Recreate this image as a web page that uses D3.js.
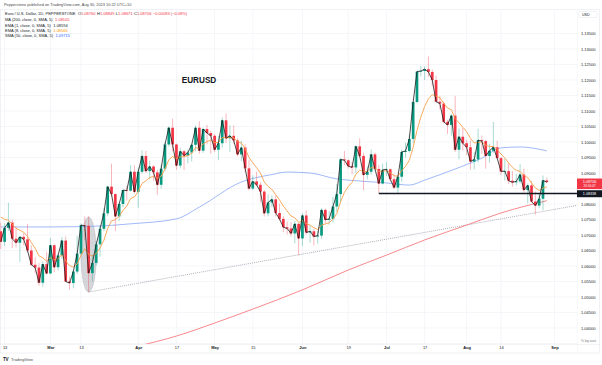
<!DOCTYPE html>
<html><head><meta charset="utf-8">
<script src="https://cdn.jsdelivr.net/npm/d3@7"></script>
<style>
body{margin:0;background:#fff}
svg{display:block}
text{font-family:"Liberation Sans",Arial,sans-serif}
</style>
</head><body>
<svg id="c" width="602" height="365"></svg>
<script>
// ---------- DATA ----------
const dates = [
"2023-02-10",
"2023-02-13","2023-02-14","2023-02-15","2023-02-16","2023-02-17",
"2023-02-20","2023-02-21","2023-02-22","2023-02-23","2023-02-24",
"2023-02-27","2023-02-28","2023-03-01","2023-03-02","2023-03-03",
"2023-03-06","2023-03-07","2023-03-08","2023-03-09","2023-03-10",
"2023-03-13","2023-03-14","2023-03-15","2023-03-16","2023-03-17",
"2023-03-20","2023-03-21","2023-03-22","2023-03-23","2023-03-24",
"2023-03-27","2023-03-28","2023-03-29","2023-03-30","2023-03-31",
"2023-04-03","2023-04-04","2023-04-05","2023-04-06","2023-04-07",
"2023-04-10","2023-04-11","2023-04-12","2023-04-13","2023-04-14",
"2023-04-17","2023-04-18","2023-04-19","2023-04-20","2023-04-21",
"2023-04-24","2023-04-25","2023-04-26","2023-04-27","2023-04-28",
"2023-05-01","2023-05-02","2023-05-03","2023-05-04","2023-05-05",
"2023-05-08","2023-05-09","2023-05-10","2023-05-11","2023-05-12",
"2023-05-15","2023-05-16","2023-05-17","2023-05-18","2023-05-19",
"2023-05-22","2023-05-23","2023-05-24","2023-05-25","2023-05-26",
"2023-05-29","2023-05-30","2023-05-31","2023-06-01","2023-06-02",
"2023-06-05","2023-06-06","2023-06-07","2023-06-08","2023-06-09",
"2023-06-12","2023-06-13","2023-06-14","2023-06-15","2023-06-16",
"2023-06-19","2023-06-20","2023-06-21","2023-06-22","2023-06-23",
"2023-06-26","2023-06-27","2023-06-28","2023-06-29","2023-06-30",
"2023-07-03","2023-07-04","2023-07-05","2023-07-06","2023-07-07",
"2023-07-10","2023-07-11","2023-07-12","2023-07-13","2023-07-14",
"2023-07-17","2023-07-18","2023-07-19","2023-07-20","2023-07-21",
"2023-07-24","2023-07-25","2023-07-26","2023-07-27","2023-07-28",
"2023-07-31","2023-08-01","2023-08-02","2023-08-03","2023-08-04",
"2023-08-07","2023-08-08","2023-08-09","2023-08-10","2023-08-11",
"2023-08-14","2023-08-15","2023-08-16","2023-08-17","2023-08-18",
"2023-08-21","2023-08-22","2023-08-23","2023-08-24","2023-08-25",
"2023-08-28","2023-08-29","2023-08-30"];

const open = [
1.0712,
1.0678,1.0723,1.0740,1.0688,1.0675,
1.0694,1.0686,1.0650,1.0604,1.0595,
1.0546,1.0606,1.0576,1.0667,1.0596,
1.0634,1.0682,1.0550,1.0545,1.0582,
1.0640,1.0732,1.0730,1.0577,1.0610,
1.0670,1.0720,1.0770,1.0856,1.0832,
1.0760,1.0800,1.0845,1.0843,1.0904,
1.0839,1.0904,1.0955,1.0906,1.0921,
1.0902,1.0862,1.0914,1.0992,1.1046,
1.0992,1.0924,1.0970,1.0956,1.0966,
1.0991,1.1046,1.0972,1.1042,1.1029,
1.1020,1.0975,1.0996,1.1070,1.1012,
1.1020,1.1005,1.0960,1.0982,1.0915,
1.0850,1.0873,1.0862,1.0840,1.0770,
1.0805,1.0815,1.0771,1.0752,1.0725,
1.0721,1.0705,1.0736,1.0689,1.0763,
1.0708,1.0712,1.0695,1.0698,1.0781,
1.0749,1.0752,1.0792,1.0832,1.0944,
1.0941,1.0922,1.0918,1.0986,1.0955,
1.0894,1.0904,1.0960,1.0913,1.0866,
1.0910,1.0912,1.0880,1.0853,1.0888,
1.0968,1.0971,1.1010,1.1129,1.1227,
1.1229,1.1235,1.1226,1.1200,1.1130,
1.1124,1.1065,1.1055,1.1085,1.0975,
1.1017,1.0996,1.0983,1.0937,1.0944,
1.1006,1.1003,1.0955,1.0972,1.0983,
1.0948,1.0905,1.0906,1.0875,1.0870,
1.0873,1.0895,1.0845,1.0860,1.0808,
1.0795,1.0817,1.0876];

const high = [
1.0740,
1.0737,1.0804,1.0750,1.0724,1.0695,
1.0706,1.0736,1.0666,1.0628,1.0610,
1.0614,1.0646,1.0691,1.0669,1.0640,
1.0694,1.0695,1.0566,1.0587,1.0698,
1.0737,1.0760,1.0760,1.0637,1.0680,
1.0731,1.0787,1.0856,1.0930,1.0835,
1.0803,1.0845,1.0858,1.0926,1.0925,
1.0918,1.0973,1.0971,1.0940,1.0925,
1.0910,1.0927,1.0998,1.1050,1.1075,
1.0995,1.0981,1.0974,1.0974,1.0993,
1.1053,1.1067,1.1047,1.1055,1.1037,
1.1026,1.1020,1.1079,1.1092,1.1054,
1.1054,1.1012,1.1004,1.0993,1.0943,
1.0893,1.0904,1.0870,1.0845,1.0831,
1.0828,1.0828,1.0801,1.0761,1.0744,
1.0741,1.0745,1.0739,1.0771,1.0779,
1.0730,1.0720,1.0713,1.0786,1.0785,
1.0777,1.0823,1.0865,1.0948,1.0971,
1.0944,1.0936,1.0990,1.1012,1.0966,
1.0921,1.0976,1.0966,1.0926,1.0930,
1.0935,1.0915,1.0898,1.0890,1.0975,
1.0998,1.1024,1.1131,1.1230,1.1245,
1.1244,1.1276,1.1234,1.1214,1.1149,
1.1130,1.1072,1.1090,1.1149,1.1044,
1.1045,1.1008,1.1005,1.0968,1.1043,
1.1021,1.1007,1.0995,1.1065,1.1004,
1.0952,1.0946,1.0932,1.0906,1.0897,
1.0929,1.0914,1.0866,1.0874,1.0840,
1.0832,1.0892,1.08849];

const low = [
1.0655,
1.0665,1.0713,1.0658,1.0660,1.0613,
1.0667,1.0644,1.0600,1.0577,1.0536,
1.0533,1.0575,1.0573,1.0580,1.0586,
1.0622,1.0549,1.0524,1.0528,1.0574,
1.0634,1.0683,1.0516,1.0551,1.0602,
1.0630,1.0712,1.0761,1.0825,1.0713,
1.0745,1.0790,1.0811,1.0840,1.0833,
1.0788,1.0897,1.0900,1.0880,1.0875,
1.0830,1.0850,1.0906,1.0985,1.0970,
1.0910,1.0915,1.0909,1.0931,1.0937,
1.0970,1.0962,1.0965,1.0993,1.0962,
1.0967,1.0941,1.0982,1.0997,1.0968,
1.0995,1.0954,1.0938,1.0903,1.0844,
1.0845,1.0857,1.0805,1.0760,1.0760,
1.0790,1.0760,1.0746,1.0709,1.0702,
1.0695,1.0673,1.0635,1.0664,1.0702,
1.0675,1.0666,1.0672,1.0688,1.0738,
1.0733,1.0740,1.0775,1.0805,1.0925,
1.0914,1.0896,1.0900,1.0949,1.0844,
1.0880,1.0895,1.0909,1.0835,1.0863,
1.0890,1.0872,1.0848,1.0833,1.0872,
1.0949,1.0966,1.0996,1.1125,1.1212,
1.1200,1.1210,1.1181,1.1128,1.1105,
1.1060,1.1026,1.1020,1.0968,1.0944,
1.0972,1.0958,1.0911,1.0912,1.0934,
1.0962,1.0914,1.0933,1.0965,1.0946,
1.0893,1.0876,1.0865,1.0856,1.0860,
1.0866,1.0837,1.0802,1.0805,1.0766,
1.0786,1.0780,1.08671];

const close = [
1.0678,
1.0723,1.0740,1.0688,1.0675,1.0694,
1.0686,1.0650,1.0604,1.0595,1.0546,
1.0606,1.0576,1.0667,1.0596,1.0634,
1.0682,1.0550,1.0545,1.0582,1.0640,
1.0732,1.0730,1.0577,1.0610,1.0670,
1.0720,1.0770,1.0856,1.0832,1.0760,
1.0800,1.0845,1.0843,1.0904,1.0839,
1.0904,1.0955,1.0906,1.0921,1.0902,
1.0862,1.0914,1.0992,1.1046,1.0992,
1.0924,1.0970,1.0956,1.0966,1.0991,
1.1046,1.0972,1.1042,1.1029,1.1020,
1.0975,1.0996,1.1070,1.1012,1.1020,
1.1005,1.0960,1.0982,1.0915,1.0850,
1.0873,1.0862,1.0840,1.0770,1.0805,
1.0815,1.0771,1.0752,1.0725,1.0721,
1.0705,1.0736,1.0689,1.0763,1.0708,
1.0712,1.0695,1.0698,1.0781,1.0749,
1.0752,1.0792,1.0832,1.0944,1.0941,
1.0922,1.0918,1.0986,1.0955,1.0894,
1.0904,1.0960,1.0913,1.0866,1.0910,
1.0912,1.0880,1.0853,1.0888,1.0968,
1.0971,1.1010,1.1129,1.1227,1.1229,
1.1235,1.1226,1.1200,1.1130,1.1124,
1.1065,1.1055,1.1085,1.0975,1.1017,
1.0996,1.0983,1.0937,1.0944,1.1006,
1.1003,1.0955,1.0972,1.0983,1.0948,
1.0905,1.0906,1.0875,1.0870,1.0873,
1.0895,1.0845,1.0860,1.0808,1.0795,
1.0817,1.0876,1.08706];

// EMA(8) value on the first visible bar
const ema8Start = 1.0758;

// SMA(50)
const sma50Dates = ["2023-02-10","2023-02-20","2023-03-01","2023-03-13","2023-03-23","2023-03-30","2023-04-17","2023-04-25","2023-05-10","2023-05-22","2023-05-26","2023-06-05","2023-06-14","2023-06-19","2023-07-03","2023-07-11","2023-07-17","2023-07-27","2023-08-02","2023-08-07","2023-08-14","2023-08-21","2023-08-30"];
const sma50Values = [1.0726,1.0726,1.0726,1.0727,1.0731,1.0736,1.0752,1.0790,1.0871,1.0895,1.0903,1.0900,1.0881,1.0877,1.0868,1.0861,1.0877,1.0913,1.0932,1.0948,1.0981,1.0984,1.09715];

// MA(200)
const ma200Dates = ["2023-03-20","2023-04-03","2023-04-17","2023-05-01","2023-05-15","2023-06-01","2023-06-19","2023-07-03","2023-07-17","2023-08-01","2023-08-14","2023-08-30"];
const ma200Values = [1.0316,1.0342,1.0374,1.0416,1.0461,1.0523,1.0587,1.0635,1.0684,1.0732,1.0771,1.08105];

// drawings
const trendDates = ["2023-03-15","2023-08-14"];
const trendValues = [1.0516,1.0752];
const levelDate = "2023-06-29";
const levelValue = 1.08338;
const ellipseDates = ["2023-03-13","2023-03-17"];
const ellipseValues = [1.0758,1.0516];

// axes
const priceTicks = [1.035,1.040,1.045,1.050,1.055,1.060,1.065,1.070,1.075,1.080,1.085,1.090,1.095,1.100,1.105,1.110,1.115,1.120,1.125,1.130,1.135];
const priceLabelTicks = [1.040,1.045,1.050,1.055,1.060,1.065,1.070,1.075,1.080,1.090,1.095,1.100,1.105,1.110,1.115,1.120,1.125,1.130,1.135];
const timeTickDates = ["2023-02-13","2023-03-01","2023-03-13","2023-04-03","2023-04-17","2023-05-01","2023-05-15","2023-06-01","2023-06-19","2023-07-03","2023-07-17","2023-08-01","2023-08-14","2023-09-01"];
const timeTickLabels = ["13","Mar","13","Apr","17","May","15","Jun","19","Jul","17","Aug","14","Sep"];
const monthLabels = ["Mar","Apr","May","Jun","Jul","Aug","Sep"];

// ---------- CHART ----------
const svg = d3.select("#c");
const W = 602, H = 365;
const plotL = 0, plotR = 577, plotT = 9, plotB = 344;
const GREEN = "#089981", RED = "#f23645";

const parse = d3.timeParse("%Y-%m-%d");
const d0 = parse(dates[0]);
const dateIndex = s => d3.timeDay.range(d0, parse(s)).filter(d => d.getDay() !== 0 && d.getDay() !== 6).length;

const x = d3.scaleLinear().domain([1, 143]).range([4.6, 546.8]);
const y = d3.scaleLinear().domain([1.035, 1.135]).range([343.5, 33.5]);

svg.append("rect").attr("width", W).attr("height", H).attr("fill", "#fff");

// header
svg.append("text").attr("x", 4).attr("y", 6).attr("font-size", 3.9).attr("fill", "#4a4a4a")
  .text("Pepperstone published on TradingView.com, Aug 30, 2023 10:22 UTC+10");

// frame
svg.append("rect").attr("x", 0.5).attr("y", 9.5).attr("width", 599).attr("height", 343.5)
  .attr("fill", "none").attr("stroke", "#e6e8ee").attr("stroke-width", 0.6);

svg.append("defs").append("clipPath").attr("id", "plot")
  .append("rect").attr("x", plotL).attr("y", plotT).attr("width", plotR - plotL).attr("height", plotB - plotT);

// grid
const grid = svg.append("g").attr("stroke", "#f0f2f6").attr("stroke-width", 0.7);
grid.selectAll(".h").data(priceTicks).join("line")
  .attr("x1", plotL).attr("x2", plotR).attr("y1", d => y(d)).attr("y2", d => y(d));
grid.selectAll(".v").data(timeTickDates).join("line")
  .attr("x1", d => x(dateIndex(d))).attr("x2", d => x(dateIndex(d))).attr("y1", plotT).attr("y2", plotB);

const plot = svg.append("g").attr("clip-path", "url(#plot)");

// ellipse highlight
const ex0 = x(dateIndex(ellipseDates[0])), ex1 = x(dateIndex(ellipseDates[1]));
const ey0 = y(ellipseValues[0]), ey1 = y(ellipseValues[1]);
plot.append("ellipse").attr("cx", (ex0 + ex1) / 2).attr("cy", (ey0 + ey1) / 2)
  .attr("rx", (ex1 - ex0) / 2).attr("ry", (ey1 - ey0) / 2)
  .attr("fill", "#9598a1").attr("fill-opacity", 0.4).attr("stroke", "#b2b5be").attr("stroke-width", 0.5);

// trend line (dotted) extended to the right edge
const tx0 = x(dateIndex(trendDates[0])), ty0 = y(trendValues[0]);
const tx1 = x(dateIndex(trendDates[1])), ty1 = y(trendValues[1]);
const slope = (ty1 - ty0) / (tx1 - tx0);
plot.append("line").attr("x1", tx0).attr("y1", ty0).attr("x2", plotR).attr("y2", ty0 + slope * (plotR - tx0))
  .attr("stroke", "#787b86").attr("stroke-width", 0.6).attr("stroke-dasharray", "1,1");

// MA200
const lineFn = d3.line().curve(d3.curveMonotoneX);
plot.append("path")
  .attr("d", lineFn(ma200Dates.map((d, i) => [x(dateIndex(d)), y(ma200Values[i])])))
  .attr("fill", "none").attr("stroke", "#f77c80").attr("stroke-width", 0.9);
// SMA50
plot.append("path")
  .attr("d", lineFn(sma50Dates.map((d, i) => [x(dateIndex(d)), y(sma50Values[i])])))
  .attr("fill", "none").attr("stroke", "#7b9ef6").attr("stroke-width", 0.9).attr("stroke-opacity", 0.8);

// candles
const idx = d3.range(dates.length);
const candles = plot.append("g");
candles.selectAll(".w").data(idx).join("line")
  .attr("x1", i => x(i)).attr("x2", i => x(i))
  .attr("y1", i => y(high[i])).attr("y2", i => y(low[i]))
  .attr("stroke", i => close[i] >= open[i] ? GREEN : RED)
  .attr("stroke-opacity", 0.4).attr("stroke-width", 0.9);
candles.selectAll(".b").data(idx).join("rect")
  .attr("x", i => x(i) - 1.35).attr("width", 2.7)
  .attr("y", i => y(Math.max(open[i], close[i])))
  .attr("height", i => Math.max(0.6, Math.abs(y(open[i]) - y(close[i]))))
  .attr("fill", i => close[i] >= open[i] ? GREEN : RED);

// EMA8 from closes
const ema8 = [];
close.forEach((c, i) => ema8.push(i === 0 ? ema8Start : ema8[i - 1] + (2 / 9) * (c - ema8[i - 1])));
plot.append("path").attr("d", d3.line()(idx.map(i => [x(i), y(ema8[i])])))
  .attr("fill", "none").attr("stroke", "#f7a04b").attr("stroke-width", 0.9);
// EMA1 (close line)
plot.append("path").attr("d", d3.line()(idx.map(i => [x(i), y(close[i])])))
  .attr("fill", "none").attr("stroke", "#1c1c1c").attr("stroke-width", 0.8);

// horizontal level
svg.append("line").attr("x1", x(dateIndex(levelDate))).attr("x2", plotR)
  .attr("y1", y(levelValue)).attr("y2", y(levelValue))
  .attr("stroke", "#131722").attr("stroke-width", 1.3);

// EURUSD title
svg.append("text").attr("x", 199).attr("y", 83).attr("text-anchor", "middle")
  .attr("font-size", 8.2).attr("font-weight", "bold").attr("fill", "#131722").text("EURUSD");

// price axis
const yAxis = d3.axisRight(y).tickValues(priceLabelTicks).tickFormat(d3.format(".5f")).tickSize(0).tickPadding(0);
const ya = svg.append("g").attr("transform", `translate(${plotR + 4},0)`).call(yAxis);
ya.select(".domain").remove();
ya.selectAll("text").attr("font-size", 4).attr("fill", "#131722").attr("font-family", "Liberation Sans, Arial, sans-serif");
svg.append("line").attr("x1", plotR + 0.5).attr("x2", plotR + 0.5).attr("y1", plotT).attr("y2", 353)
  .attr("stroke", "#eef0f4").attr("stroke-width", 0.5);

// time axis
const xAxis = d3.axisBottom(x).tickValues(timeTickDates.map(dateIndex))
  .tickFormat((d, i) => timeTickLabels[i]).tickSize(0).tickPadding(0);
const xa = svg.append("g").attr("transform", `translate(0,${plotB + 2.5})`).call(xAxis);
xa.select(".domain").remove();
xa.selectAll("text").attr("font-size", 4).attr("fill", "#131722").attr("dy", "0.71em")
  .attr("font-weight", (d, i) => monthLabels.includes(timeTickLabels[i]) ? "bold" : "normal")
  .attr("font-family", "Liberation Sans, Arial, sans-serif");
svg.append("line").attr("x1", 0).attr("x2", 600).attr("y1", plotB + 0.5).attr("y2", plotB + 0.5)
  .attr("stroke", "#e6e8ee").attr("stroke-width", 0.5);

// bottom-right options
svg.append("text").attr("x", 596).attr("y", 342).attr("text-anchor", "end")
  .attr("font-size", 3.2).attr("fill", "#787b86").text("% log auto");

// USD box
svg.append("rect").attr("x", 579).attr("y", 11.5).attr("width", 18).attr("height", 6).attr("rx", 1)
  .attr("fill", "#fff").attr("stroke", "#e0e3eb").attr("stroke-width", 0.5);
svg.append("text").attr("x", 582).attr("y", 15.8).attr("font-size", 3.6).attr("fill", "#131722").text("USD");

// current price label
const lastClose = close[close.length - 1];
const cy = y(lastClose);
svg.append("rect").attr("x", 577).attr("y", cy - 3.6).attr("width", 25).attr("height", 10.6).attr("fill", RED);
svg.append("text").attr("x", 589.5).attr("y", cy + 1.2).attr("text-anchor", "middle")
  .attr("font-size", 3.8).attr("fill", "#fff").text(d3.format(".5f")(lastClose));
svg.append("text").attr("x", 589.5).attr("y", cy + 5.3).attr("text-anchor", "middle")
  .attr("font-size", 3.1).attr("fill", "#fff").text("20:16:47");
// level label
const ly = y(levelValue);
svg.append("rect").attr("x", 577).attr("y", ly - 3.3).attr("width", 25).attr("height", 7).attr("fill", "#131722");
svg.append("text").attr("x", 589.5).attr("y", ly + 1.6).attr("text-anchor", "middle")
  .attr("font-size", 3.7).attr("fill", "#fff").text(d3.format(".5f")(levelValue));

// legend
const lg = svg.append("g").attr("font-size", 4).attr("fill", "#131722");
const l1 = lg.append("text").attr("x", 5).attr("y", 15.4);
l1.append("tspan").text("Euro / U.S. Dollar, 1D, PEPPERSTONE");
[["O", "1.08760"], ["H", "1.08849"], ["L", "1.08671"], ["C", "1.08706"]].forEach(([k, v], i) => {
  l1.append("tspan").attr("dx", i === 0 ? 2.5 : 1.5).text(k);
  l1.append("tspan").attr("fill", RED).text(v);
});
l1.append("tspan").attr("dx", 1.5).attr("fill", RED).text("\u22120.00083 (\u22120.08%)");
const rows = [
  ["MA (200, close, 0, SMA, 5)", "1.08105", RED],
  ["EMA (1, close, 0, SMA, 5)", "1.08594", "#131722"],
  ["EMA (8, close, 0, SMA, 5)", "1.08566", "#ff9800"],
  ["SMA (50, close, 0, SMA, 5)", "1.09715", "#2962ff"]
];
const rowY = [21.1, 26.5, 31.8, 37.2];
rows.forEach((r, i) => {
  const t = lg.append("text").attr("x", 5).attr("y", rowY[i]);
  t.append("tspan").text(r[0]);
  t.append("tspan").attr("dx", 2.5).attr("fill", r[2]).text(r[1]);
});

// TradingView footer
svg.append("text").attr("x", 3).attr("y", 360.5).attr("font-size", 4.6).attr("font-weight", "bold")
  .attr("fill", "#131722").attr("letter-spacing", -0.4).text("TV");
svg.append("text").attr("x", 11).attr("y", 360.5).attr("font-size", 4).attr("fill", "#4a4a4a").text("TradingView");
</script>
</body></html>
